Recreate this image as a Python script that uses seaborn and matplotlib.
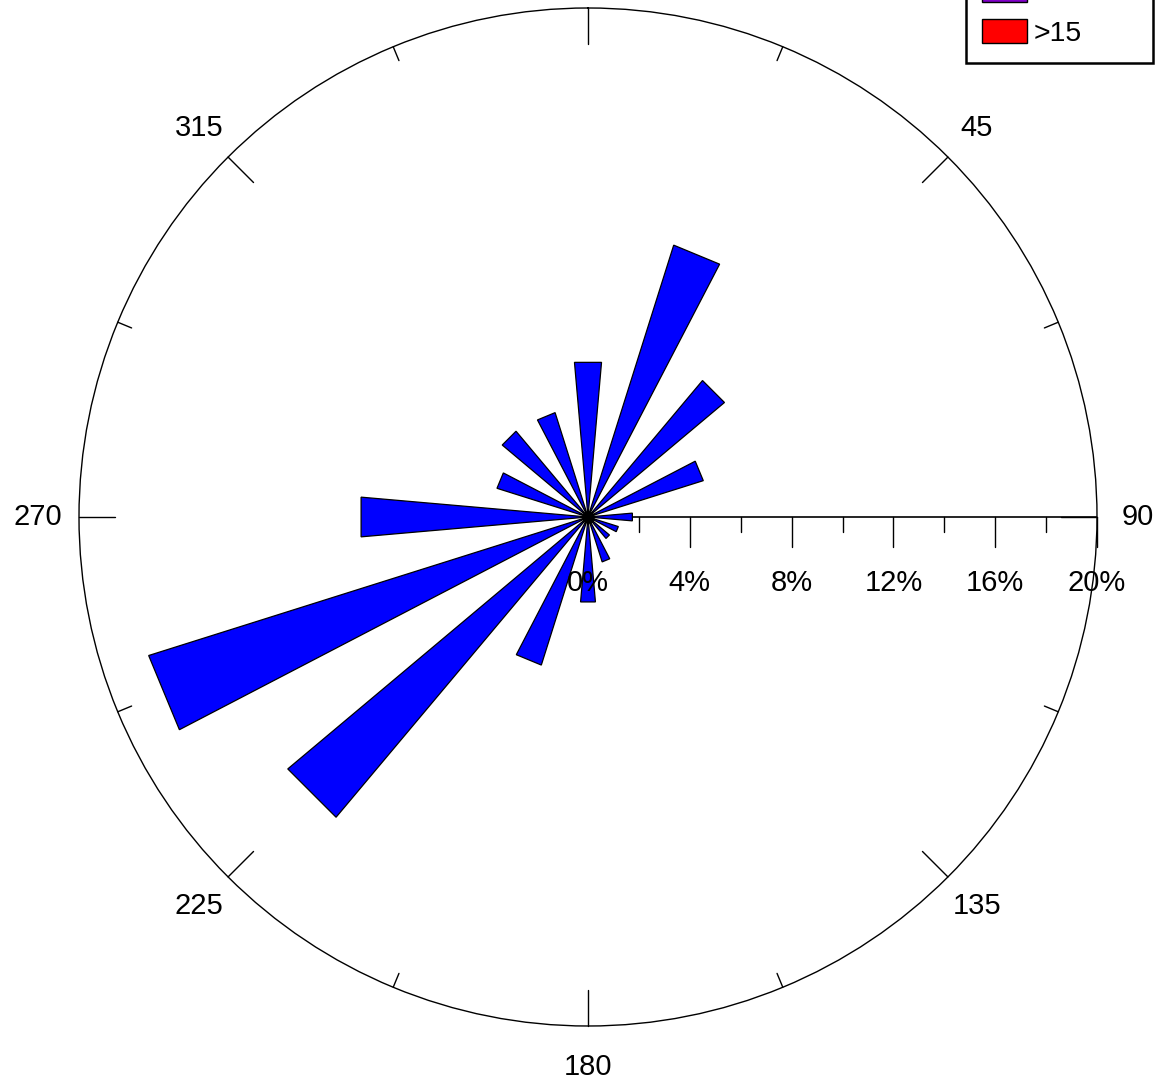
import numpy as np
import pandas as pd
import matplotlib
matplotlib.use("Agg")
import matplotlib.pyplot as plt
from matplotlib.patches import Patch
import seaborn as sns

# Wind directions (degrees, clockwise from north) and frequency of occurrence (%)
directions = [0, 22.5, 45, 67.5, 90, 112.5, 135, 157.5,
              180, 202.5, 225, 247.5, 270, 292.5, 315, 337.5]
frequency = [6.1, 11.2, 7.0, 4.75, 1.75, 1.25, 1.1, 1.85,
             3.35, 6.1, 15.4, 18.1, 8.95, 3.75, 4.4, 4.3]

# Speed classes shown in the legend
speed_classes = ["0 - 5", "5 - 10", "10 - 15", ">15"]
class_colors = ["#0000FF", "#00C000", "#8000C8", "#FF0000"]

# Radial scale (%)
radial_ticks = [0, 4, 8, 12, 16, 20]
compass_labels = [45, 90, 135, 180, 225, 270, 315]

sns.set_theme(style="white")
plt.rcParams["font.family"] = ["Liberation Sans", "DejaVu Sans"]

W, H = 1159, 1089
fig = plt.figure(figsize=(W / 100, H / 100), dpi=100)
ax = fig.add_axes([79 / W, 63 / H, 1018 / W, 1018 / H], projection="polar")
ax.set_theta_zero_location("N")
ax.set_theta_direction(-1)

df = pd.DataFrame({"theta": np.radians(directions), "freq": frequency})
sns.barplot(data=df, x="theta", y="freq", native_scale=True, width=10 / 22.5,
            color="#0000FF", saturation=1, edgecolor="black", linewidth=0.9,
            errorbar=None, ax=ax, zorder=2)
# Petals with straight (chord) outer ends instead of arcs
for p in ax.patches:
    p.get_path()._interpolation_steps = 1

rmax = 20
ax.set_ylim(0, rmax)
ax.set_xlabel("")
ax.set_ylabel("")
ax.set_xticks([])
ax.set_yticks([])
ax.grid(False)
ax.spines["polar"].set_color("black")
ax.spines["polar"].set_linewidth(1.0)

px = rmax / 509.0  # one pixel in radial units
label_size = 21


def to_polar(x, y):
    """Cartesian (x east, y north) in % units -> (theta, r) for this axes."""
    return np.arctan2(x, y), np.hypot(x, y)


# Direction ticks on the outer circle, pointing inward
for k in range(16):
    th = np.radians(k * 22.5)
    length = 36 * px if k % 2 == 0 else 15 * px
    ax.plot([th, th], [rmax, rmax - length], color="black", lw=1.0,
            zorder=1, clip_on=False)

# Compass labels outside the circle
for d in compass_labels:
    ax.text(np.radians(d), 550 * px, str(d), ha="center", va="center",
            fontsize=label_size, color="black", clip_on=False)

# Radial scale along the east direction
ax.plot([np.pi / 2, np.pi / 2], [0, rmax], color="black", lw=1.2, zorder=1)
for v in np.arange(2, rmax + 1, 2):
    L = 30 * px if v % 4 == 0 else 15 * px
    t0, r0 = to_polar(v, 0)
    t1, r1 = to_polar(v, -L)
    ax.plot([t0, t1], [r0, r1], color="black", lw=1.0, zorder=1, clip_on=False)
for v in radial_ticks:
    t, r = to_polar(v, -66 * px)
    ax.text(t, r, f"{v}%", ha="center", va="center", fontsize=label_size,
            color="black", zorder=3, clip_on=False)

# Hub at the centre
ax.plot([0], [0], marker="o", ms=8, color="black", zorder=4)

# Legend at the top right
handles = [Patch(facecolor=c, edgecolor="black", linewidth=1.0)
           for c in class_colors]
leg = fig.legend(handles, speed_classes, loc="lower right",
                 bbox_to_anchor=(1153 / W, 1 - 63 / H),
                 bbox_transform=fig.transFigure, fontsize=20.5,
                 title="Speed (m/s)", title_fontsize=20.5, alignment="left",
                 handlelength=1.58, handleheight=0.92, handletextpad=0.22,
                 labelspacing=0.48, borderpad=0.56, borderaxespad=0,
                 labelcolor="black", fancybox=False, framealpha=1,
                 edgecolor="black")
leg.get_frame().set_linewidth(1.8)
leg.get_title().set_color("black")

fig.savefig("out.png", dpi=100, facecolor="white")
